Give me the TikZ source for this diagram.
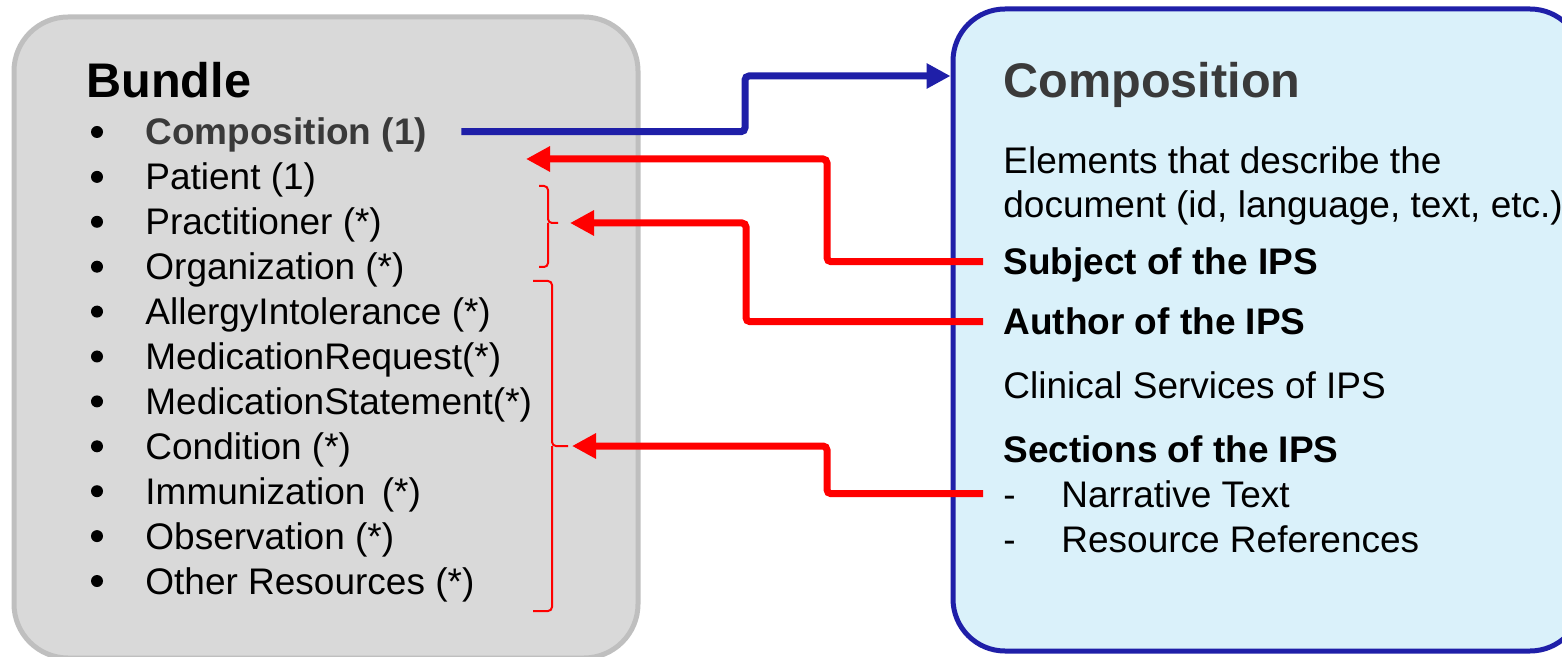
\documentclass[tikz,border=0pt]{standalone}
\usepackage{fontspec}
\setmainfont{Liberation Sans}
\usetikzlibrary{arrows.meta,calc,fit}
\definecolor{boxgray}{HTML}{D9D9D9}
\definecolor{edgegray}{HTML}{BFBFBF}
\definecolor{ipsblue}{HTML}{1F1FA8}
\definecolor{ipsfill}{HTML}{DAF1FA}
\definecolor{headgray}{HTML}{3A3A3A}
\tikzset{
    bundlebox/.style = {draw=edgegray, fill=boxgray, line width=2.5pt,
        rounded corners=27pt, inner sep=0pt},
    ipsbox/.style = {draw=ipsblue, fill=ipsfill, line width=2.5pt,
        rounded corners=26pt, inner sep=0pt},
    txt/.style = {anchor=base west, inner sep=0pt, text height=13.3pt,
        text depth=0pt, font=\fontsize{18.5}{22}\selectfont},
    btxt/.style = {txt, font=\fontsize{18.5}{22}\selectfont\bfseries},
    title/.style = {anchor=base west, inner sep=0pt,
        font=\fontsize{24.3}{28}\selectfont\bfseries},
    bullet/.style = {circle, fill=black, inner sep=0pt, minimum size=6pt},
    bluearrow/.style = {draw=ipsblue, line width=3.5pt, rounded corners=2pt,
        -{Triangle[length=12pt,width=12pt]}},
    redarrow/.style = {draw=red, line width=3.5pt, rounded corners=2pt,
        -{Triangle[length=12pt,width=12pt]}},
    bracket/.style = {draw=red, line width=1pt, rounded corners=2pt}
}
\begin{document}
\begin{tikzpicture}[x=0.5pt, y=-0.5pt]
    \useasboundingbox (0,0) rectangle (1562,657);
    \clip (0,0) rectangle (1562,657);
    % the two boxes
    \node[bundlebox, fit={(14,17) (638,658)}] (bundle) {};
    \node[ipsbox, fit={(953,9) (1582,651)}] (compbox) {};
    % bundle contents
    \node[title] (bundtitle) at (86,98) {Bundle};
    \foreach \k in {0,...,10}
        \node[bullet] (dot\k) at (97,{132+44.9*\k}) {};
    \node[btxt, text=headgray] (comp1) at (145,145) {Composition (1)};
    \foreach \txt [count=\k] in {Patient (1), Practitioner (*), Organization (*),
        AllergyIntolerance (*), MedicationRequest(*), MedicationStatement(*),
        Condition (*), Immunization\, (*), Observation (*), Other Resources (*)}
        \node[txt] (item\k) at (145,{145+44.9*\k}) {\txt};
    % composition contents
    \node[title, text=headgray] (comptitle) at (1003,98) {Composition};
    \node[txt] (elem1) at (1003,174) {Elements that describe the};
    \node[txt] (elem2) at (1003,218) {document (id, language, text, etc.)};
    \node[btxt] (subj) at (1003,275) {Subject of the IPS};
    \node[btxt] (auth) at (1003,335) {Author of the IPS};
    \node[txt] (clin) at (1003,398) {Clinical Services of IPS};
    \node[btxt] (sect) at (1003,462) {Sections of the IPS};
    \node[txt] (dash1) at (1003,507) {-};
    \node[txt] (narr) at (1061,507) {Narrative Text};
    \node[txt] (dash2) at (1003,552) {-};
    \node[txt] (resref) at (1061,552) {Resource References};
    % braces
    \coordinate (ptip) at (526,159);
    \coordinate (braceA) at (558,223);
    \coordinate (braceB) at (568,446);
    \draw[bracket] (539,186) -| (548,223) -- (braceA);
    \draw[bracket] (548,223) |- (539,267);
    \draw[bracket] (533,281) -| (552,446) -- (braceB);
    \draw[bracket] (552,446) |- (533,611);
    % links
    \draw[bluearrow] ($(comp1.east)+(34,0)$) -| (745,76) -- (compbox.west |- 0,76);
    \draw[redarrow] ($(subj.west)+(-20,0)$) -| (827,159) -- (ptip);
    \draw[redarrow, shorten >=6pt] ($(auth.west)+(-20,0)$) -| (746,223) -- (braceA);
    \draw[redarrow, shorten >=2pt] ($(dash1.west)+(-20,0)$) -| (827,446) -- (braceB);
\end{tikzpicture}
\end{document}
